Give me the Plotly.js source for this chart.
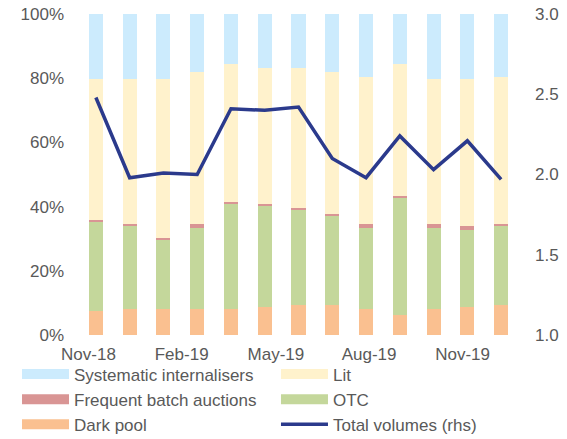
<!DOCTYPE html>
<html>
<head>
<meta charset="utf-8">
<script src="https://cdn.plot.ly/plotly-3.0.1.min.js"></script>
<style>html,body{margin:0;padding:0;background:#fff;}#chart{width:567px;height:439px;}</style>
</head>
<body>
<div id="chart"></div>
<script>
const months = ["Nov-18","Dec-18","Jan-19","Feb-19","Mar-19","Apr-19","May-19","Jun-19","Jul-19","Aug-19","Sep-19","Oct-19","Nov-19"];
const tickLabels = ["Nov-18","Feb-19","May-19","Aug-19","Nov-19"];
const yTickLabels = ["0%","20%","40%","60%","80%","100%"];
const y2TickLabels = ["1.0","1.5","2.0","2.5","3.0"];
const darkPool = [7.5, 8.1, 8.1, 8.1, 8.1, 8.7, 9.3, 9.3, 8.1, 6.2, 8.1, 8.7, 9.3];
const otc = [27.7, 25.9, 21.5, 25.2, 32.7, 31.6, 29.6, 27.9, 25.2, 36.6, 25.2, 24.0, 24.7];
const fba = [0.6, 0.6, 0.5, 1.3, 0.6, 0.5, 0.7, 0.6, 1.3, 0.6, 1.3, 1.3, 0.6];
const lit = [44.0, 45.2, 49.7, 47.2, 43.0, 42.3, 43.5, 44.0, 45.9, 41.0, 45.2, 45.8, 45.9];
const si = [20.2, 20.2, 20.2, 18.2, 15.6, 16.9, 16.9, 18.2, 19.5, 15.6, 20.2, 20.2, 19.5];
const totalVolumes = [2.48, 1.98, 2.01, 2.00, 2.41, 2.40, 2.42, 2.10, 1.98, 2.24, 2.03, 2.21, 1.97];

// label placement (style only): where the reference draws its month labels along the category axis
const tickPositions = [-0.22, 2.54, 5.33, 8.09, 10.86];

const names = {si:"Systematic internalisers", lit:"Lit", fba:"Frequent batch auctions", otc:"OTC", dark:"Dark pool", tot:"Total volumes (rhs)"};
const colors = {si:"#CCEBFD", lit:"#FFF2CC", fba:"#D99594", otc:"#C4D79B", dark:"#FAC090", tot:"#2B3A8C"};

function barTrace(key, vals){
  return {type:"bar", x:months, y:vals, name:names[key], marker:{color:colors[key], line:{width:0}}, showlegend:false, hoverinfo:"y+name"};
}
function legendTrace(key, rank, lg){
  return {type:"scatter", mode:"lines", x:[null], y:[null], name:names[key], line:{color:colors[key], width:10}, legendrank:rank, legend:lg, showlegend:true, hoverinfo:"skip"};
}
const traces = [
  barTrace("dark", darkPool),
  barTrace("otc", otc),
  barTrace("fba", fba),
  barTrace("lit", lit),
  barTrace("si", si),
  {type:"scatter", mode:"lines", x:months, y:totalVolumes, yaxis:"y2", name:names.tot, line:{color:colors.tot, width:3.5}, legendrank:3, legend:"legend2"},
  legendTrace("si",1,"legend"), legendTrace("fba",2,"legend"), legendTrace("dark",3,"legend"),
  legendTrace("lit",1,"legend2"), legendTrace("otc",2,"legend2")
];
const font = {family:"Liberation Sans, Arial, sans-serif", size:17, color:"#595959"};
const legendBase = {orientation:"v", xanchor:"left", yanchor:"top", y:-0.067, traceorder:"normal", itemwidth:47, font:font, bgcolor:"rgba(0,0,0,0)", tracegroupgap:0, borderwidth:0};
const layout = {
  width:567, height:439,
  margin:{l:79, r:49, t:14, b:104, pad:0, autoexpand:false},
  paper_bgcolor:"#fff", plot_bgcolor:"#fff",
  font:font,
  barmode:"stack", bargap:0.585,
  showlegend:true,
  xaxis:{type:"category", tickmode:"array", tickvals:tickPositions, ticktext:tickLabels, showgrid:false, zeroline:false, showline:false, ticks:"", tickfont:font, range:[-0.5,12.5], ticklabelstandoff:7},
  yaxis:{range:[0,100], tickmode:"array", tickvals:[0,20,40,60,80,100], ticktext:yTickLabels, showgrid:false, zeroline:false, showline:false, ticks:"", tickfont:font, ticklabelstandoff:14},
  yaxis2:{overlaying:"y", side:"right", range:[1,3], tickmode:"array", tickvals:[1,1.5,2,2.5,3], ticktext:y2TickLabels, showgrid:false, zeroline:false, showline:false, ticks:"", tickfont:font, ticklabelstandoff:16},
  legend:Object.assign({}, legendBase, {x:-0.1412}),
  legend2:Object.assign({}, legendBase, {x:0.4487})
};
Plotly.newPlot("chart", traces, layout, {displayModeBar:false, staticPlot:true});
</script>
</body>
</html>
